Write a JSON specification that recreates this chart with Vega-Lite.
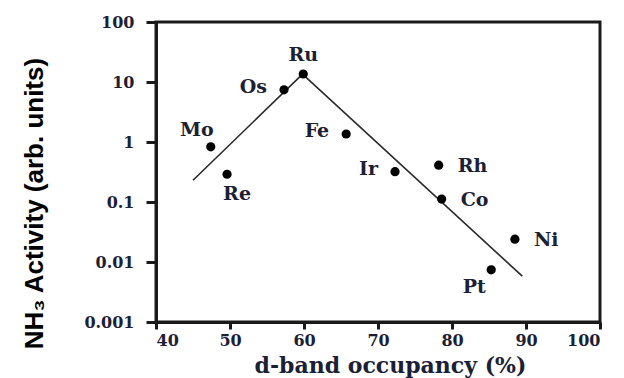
{
  "$schema": "https://vega.github.io/schema/vega-lite/v6.json",
  "width": 444,
  "height": 300,
  "autosize": {"type": "none"},
  "padding": {"left": 156, "top": 22, "right": 24, "bottom": 56},
  "background": "white",
  "config": {
    "view": {"stroke": "#1a1a1a", "strokeWidth": 3},
    "axis": {"grid": false}
  },
  "datasets": {
    "metals": [
      {"metal": "Mo", "occupancy": 47.4, "activity": 0.83},
      {"metal": "Re", "occupancy": 49.6, "activity": 0.29},
      {"metal": "Os", "occupancy": 57.3, "activity": 7.4},
      {"metal": "Ru", "occupancy": 59.9, "activity": 13.6},
      {"metal": "Fe", "occupancy": 65.7, "activity": 1.36},
      {"metal": "Ir", "occupancy": 72.3, "activity": 0.32},
      {"metal": "Rh", "occupancy": 78.2, "activity": 0.41},
      {"metal": "Co", "occupancy": 78.6, "activity": 0.112},
      {"metal": "Ni", "occupancy": 88.5, "activity": 0.024},
      {"metal": "Pt", "occupancy": 85.3, "activity": 0.0074}
    ],
    "fit": [
      {"occupancy": 45.0, "activity": 0.23},
      {"occupancy": 59.8, "activity": 13.5},
      {"occupancy": 89.5, "activity": 0.0058}
    ]
  },
  "encoding": {
    "x": {
      "field": "occupancy",
      "type": "quantitative",
      "scale": {"domain": [40, 100], "nice": false, "zero": false},
      "axis": {
        "values": [40, 50, 60, 70, 80, 90, 100],
        "title": "d-band occupancy (%)",
        "titleFont": "DejaVu Serif",
        "titleFontWeight": "bold",
        "titleFontSize": 22,
        "titleColor": "#1b2035",
        "titleX": 234,
        "titleY": 50,
        "titleBaseline": "alphabetic",
        "titleAnchor": "middle",
        "labelFont": "DejaVu Serif",
        "labelFontSize": 16,
        "labelFontWeight": "bold",
        "labelColor": "#1b2035",
        "labelPadding": 3,
        "tickSize": 7,
        "tickWidth": 3,
        "tickColor": "#1a1a1a",
        "domainWidth": 3,
        "domainColor": "#1a1a1a"
      }
    },
    "y": {
      "field": "activity",
      "type": "quantitative",
      "scale": {"type": "log", "domain": [0.001, 100], "nice": false},
      "axis": {
        "values": [0.001, 0.01, 0.1, 1, 10, 100],
        "format": "~g",
        "title": "NH₃ Activity (arb. units)",
        "titleFont": "Liberation Sans",
        "titleFontWeight": "bold",
        "titleFontSize": 26,
        "titleColor": "#000000",
        "titleAngle": -90,
        "titleX": -114,
        "titleY": 181,
        "titleBaseline": "alphabetic",
        "titleAlign": "center",
        "labelFont": "DejaVu Serif",
        "labelFontSize": 16,
        "labelFontWeight": "bold",
        "labelColor": "#1b2035",
        "labelPadding": 12,
        "tickSize": 10,
        "tickWidth": 3,
        "tickColor": "#1a1a1a",
        "domainWidth": 3,
        "domainColor": "#1a1a1a"
      }
    }
  },
  "layer": [
    {
      "data": {"name": "fit"},
      "mark": {"type": "line", "color": "#2a2a2a", "strokeWidth": 1.6},
      "encoding": {"order": {"field": "occupancy", "type": "quantitative"}}
    },
    {
      "data": {"name": "metals"},
      "mark": {"type": "point", "shape": "circle", "filled": true, "color": "#000000", "opacity": 1, "size": 85}
    },
    {
      "data": {"name": "metals"},
      "transform": [{"filter": {"field": "metal", "oneOf": ["Ru"]}}],
      "mark": {"type": "text", "font": "DejaVu Serif", "fontWeight": "bold", "fontSize": 19, "color": "#1b2035", "align": "center", "baseline": "middle", "dx": 0, "dy": -19},
      "encoding": {"text": {"field": "metal"}}
    },
    {
      "data": {"name": "metals"},
      "transform": [{"filter": {"field": "metal", "oneOf": ["Os", "Fe", "Ir"]}}],
      "mark": {"type": "text", "font": "DejaVu Serif", "fontWeight": "bold", "fontSize": 19, "color": "#1b2035", "align": "right", "baseline": "middle", "dx": -17, "dy": -3},
      "encoding": {"text": {"field": "metal"}}
    },
    {
      "data": {"name": "metals"},
      "transform": [{"filter": {"field": "metal", "oneOf": ["Rh", "Co", "Ni"]}}],
      "mark": {"type": "text", "font": "DejaVu Serif", "fontWeight": "bold", "fontSize": 19, "color": "#1b2035", "align": "left", "baseline": "middle", "dx": 19, "dy": 1},
      "encoding": {"text": {"field": "metal"}}
    },
    {
      "data": {"name": "metals"},
      "transform": [{"filter": {"field": "metal", "oneOf": ["Mo"]}}],
      "mark": {"type": "text", "font": "DejaVu Serif", "fontWeight": "bold", "fontSize": 19, "color": "#1b2035", "align": "center", "baseline": "middle", "dx": -14, "dy": -17},
      "encoding": {"text": {"field": "metal"}}
    },
    {
      "data": {"name": "metals"},
      "transform": [{"filter": {"field": "metal", "oneOf": ["Re"]}}],
      "mark": {"type": "text", "font": "DejaVu Serif", "fontWeight": "bold", "fontSize": 19, "color": "#1b2035", "align": "center", "baseline": "middle", "dx": 10, "dy": 20},
      "encoding": {"text": {"field": "metal"}}
    },
    {
      "data": {"name": "metals"},
      "transform": [{"filter": {"field": "metal", "oneOf": ["Pt"]}}],
      "mark": {"type": "text", "font": "DejaVu Serif", "fontWeight": "bold", "fontSize": 19, "color": "#1b2035", "align": "center", "baseline": "middle", "dx": -17, "dy": 17},
      "encoding": {"text": {"field": "metal"}}
    }
  ]
}
